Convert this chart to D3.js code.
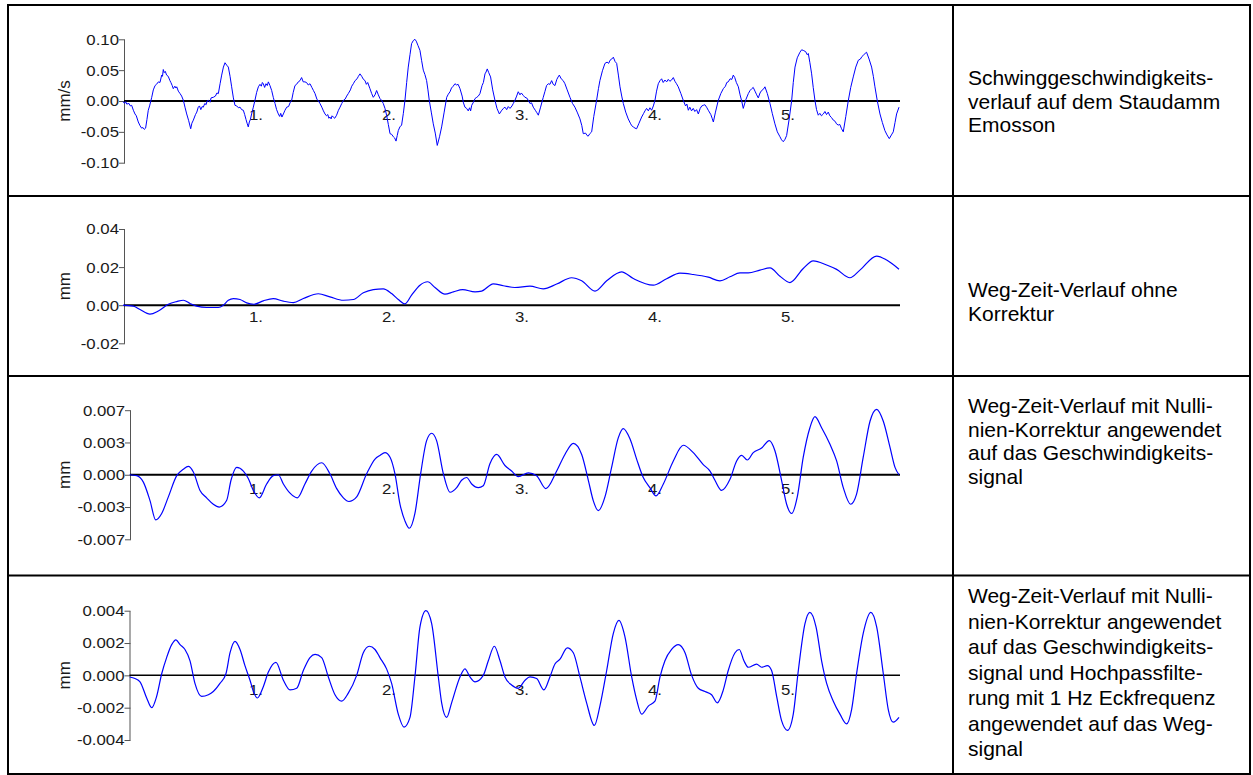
<!DOCTYPE html>
<html>
<head>
<meta charset="utf-8">
<script src="https://cdn.jsdelivr.net/npm/d3@7/dist/d3.min.js"></script>
<style>
  html, body { margin: 0; padding: 0; background: #fff; }
  svg { display: block; font-family: "Liberation Sans", Arial, sans-serif; }
</style>
</head>
<body>
<svg id="chart" width="1253" height="775"></svg>
<script>
// ---- time axis (seconds) ----
const timeTicks = [1, 2, 3, 4, 5];
const timeTickLabels = ["1.", "2.", "3.", "4.", "5."];
const timeEnd = 5.835;

// ---- velocity record, mm/s  [t, v] ----
const velocity = [
  [0.000,-0.001],[0.012,-0.004],[0.020,-0.001],[0.028,-0.005],[0.045,-0.004],[0.055,-0.008],[0.065,-0.007],
  [0.078,-0.015],[0.090,-0.021],[0.100,-0.024],[0.115,-0.034],[0.128,-0.040],[0.140,-0.044],[0.150,-0.043],
  [0.160,-0.046],[0.170,-0.044],[0.180,-0.030],[0.190,-0.015],[0.200,-0.008],[0.216,0.006],[0.228,0.018],
  [0.241,0.025],[0.252,0.027],[0.266,0.031],[0.278,0.030],[0.291,0.042],[0.297,0.040],[0.303,0.051],
  [0.310,0.046],[0.318,0.048],[0.328,0.042],[0.340,0.040],[0.353,0.033],[0.360,0.030],[0.370,0.025],
  [0.378,0.020],[0.390,0.024],[0.398,0.021],[0.404,0.023],[0.416,0.016],[0.429,0.012],[0.441,0.008],
  [0.454,0.001],[0.466,-0.010],[0.479,-0.021],[0.494,-0.032],[0.509,-0.045],[0.518,-0.036],[0.529,-0.031],
  [0.545,-0.022],[0.555,-0.018],[0.566,-0.010],[0.575,-0.008],[0.585,-0.014],[0.595,-0.009],[0.604,-0.010],
  [0.615,-0.004],[0.625,-0.006],[0.632,0.000],[0.642,0.001],[0.655,-0.002],[0.662,0.005],[0.679,0.006],
  [0.695,0.008],[0.706,0.013],[0.717,0.012],[0.730,0.028],[0.742,0.042],[0.755,0.055],[0.767,0.062],
  [0.780,0.058],[0.792,0.055],[0.805,0.040],[0.817,0.023],[0.830,0.005],[0.842,-0.007],[0.855,-0.008],
  [0.868,-0.011],[0.880,-0.010],[0.892,-0.014],[0.905,-0.015],[0.915,-0.022],[0.925,-0.030],[0.933,-0.036],
  [0.942,-0.042],[0.950,-0.034],[0.958,-0.030],[0.967,-0.021],[0.980,-0.010],[0.992,0.001],[1.005,0.014],
  [1.018,0.023],[1.030,0.027],[1.040,0.024],[1.048,0.030],[1.055,0.028],[1.065,0.022],[1.075,0.028],
  [1.085,0.025],[1.093,0.031],[1.105,0.025],[1.118,0.017],[1.130,0.006],[1.143,-0.004],[1.155,-0.014],
  [1.168,-0.021],[1.178,-0.025],[1.186,-0.020],[1.195,-0.026],[1.206,-0.021],[1.218,-0.015],[1.231,-0.010],
  [1.245,-0.009],[1.256,-0.003],[1.268,0.001],[1.280,0.014],[1.293,0.025],[1.305,0.027],[1.318,0.031],
  [1.331,0.033],[1.343,0.038],[1.355,0.031],[1.368,0.031],[1.380,0.030],[1.393,0.026],[1.406,0.028],
  [1.420,0.022],[1.432,0.017],[1.444,0.012],[1.458,0.003],[1.470,0.000],[1.481,-0.004],[1.495,-0.010],
  [1.507,-0.016],[1.519,-0.021],[1.530,-0.024],[1.540,-0.022],[1.548,-0.028],[1.556,-0.026],[1.565,-0.029],
  [1.572,-0.024],[1.581,-0.026],[1.592,-0.028],[1.606,-0.023],[1.620,-0.015],[1.632,-0.010],[1.645,-0.004],
  [1.657,0.001],[1.670,0.003],[1.682,0.008],[1.694,0.012],[1.710,0.018],[1.720,0.024],[1.732,0.028],
  [1.745,0.033],[1.760,0.036],[1.770,0.040],[1.782,0.044],[1.795,0.040],[1.808,0.035],[1.820,0.033],
  [1.830,0.027],[1.840,0.030],[1.857,0.020],[1.870,0.012],[1.882,0.006],[1.895,0.010],[1.907,0.017],
  [1.920,0.010],[1.932,0.004],[1.945,0.001],[1.957,-0.004],[1.970,-0.012],[1.982,-0.023],[1.995,-0.038],
  [2.008,-0.053],[2.020,-0.054],[2.033,-0.058],[2.043,-0.060],[2.053,-0.065],[2.062,-0.056],[2.070,-0.048],
  [2.082,-0.042],[2.095,-0.039],[2.108,-0.020],[2.120,0.001],[2.133,0.030],[2.145,0.055],[2.158,0.075],
  [2.170,0.093],[2.183,0.098],[2.195,0.100],[2.205,0.097],[2.218,0.090],[2.233,0.082],[2.245,0.066],
  [2.258,0.050],[2.270,0.043],[2.283,0.033],[2.293,0.018],[2.303,0.001],[2.318,-0.018],[2.333,-0.037],
  [2.348,-0.052],[2.363,-0.072],[2.380,-0.058],[2.396,-0.042],[2.415,-0.018],[2.434,0.006],[2.446,0.011],
  [2.459,0.015],[2.470,0.021],[2.483,0.024],[2.496,0.028],[2.508,0.026],[2.520,0.027],[2.534,0.020],
  [2.550,0.008],[2.560,-0.003],[2.571,-0.010],[2.584,-0.012],[2.596,-0.016],[2.606,-0.011],[2.614,-0.016],
  [2.622,-0.007],[2.635,-0.002],[2.647,0.004],[2.660,0.006],[2.672,0.008],[2.684,0.012],[2.700,0.025],
  [2.710,0.030],[2.722,0.044],[2.730,0.047],[2.739,0.052],[2.750,0.046],[2.764,0.039],[2.780,0.018],
  [2.797,0.001],[2.812,-0.012],[2.830,-0.021],[2.845,-0.016],[2.860,-0.012],[2.872,-0.010],[2.885,-0.014],
  [2.897,-0.009],[2.910,-0.012],[2.925,-0.008],[2.935,-0.004],[2.947,0.001],[2.960,0.008],[2.972,0.015],
  [2.985,0.010],[2.995,0.013],[3.010,0.009],[3.022,0.006],[3.035,0.005],[3.048,0.001],[3.060,-0.004],
  [3.072,-0.003],[3.085,-0.010],[3.100,-0.015],[3.112,-0.019],[3.123,-0.023],[3.140,-0.010],[3.160,0.006],
  [3.172,0.015],[3.185,0.025],[3.198,0.028],[3.210,0.027],[3.223,0.033],[3.235,0.027],[3.248,0.025],
  [3.262,0.035],[3.272,0.039],[3.281,0.042],[3.295,0.036],[3.310,0.033],[3.323,0.028],[3.340,0.018],
  [3.361,0.006],[3.380,-0.004],[3.398,-0.010],[3.415,-0.018],[3.436,-0.029],[3.450,-0.040],[3.461,-0.053],
  [3.478,-0.052],[3.490,-0.056],[3.498,-0.057],[3.510,-0.053],[3.524,-0.050],[3.540,-0.025],[3.561,0.001],
  [3.575,0.020],[3.586,0.033],[3.605,0.049],[3.624,0.061],[3.640,0.063],[3.652,0.061],[3.662,0.066],
  [3.675,0.068],[3.687,0.071],[3.700,0.064],[3.712,0.061],[3.725,0.042],[3.737,0.023],[3.750,0.008],
  [3.762,-0.004],[3.780,-0.018],[3.799,-0.029],[3.815,-0.036],[3.825,-0.040],[3.837,-0.042],[3.850,-0.044],
  [3.862,-0.045],[3.880,-0.036],[3.900,-0.026],[3.915,-0.020],[3.925,-0.016],[3.937,-0.012],[3.950,-0.016],
  [3.962,-0.011],[3.975,-0.015],[3.988,-0.008],[4.000,0.001],[4.012,0.016],[4.025,0.028],[4.038,0.033],
  [4.050,0.036],[4.062,0.030],[4.075,0.034],[4.088,0.031],[4.100,0.035],[4.112,0.032],[4.125,0.034],
  [4.138,0.038],[4.150,0.032],[4.162,0.028],[4.175,0.023],[4.195,0.012],[4.213,0.001],[4.230,-0.008],
  [4.240,-0.005],[4.251,-0.015],[4.262,-0.010],[4.275,-0.016],[4.288,-0.012],[4.300,-0.017],[4.313,-0.014],
  [4.326,-0.021],[4.340,-0.012],[4.352,-0.008],[4.363,-0.007],[4.375,-0.006],[4.388,-0.010],[4.401,-0.015],
  [4.420,-0.022],[4.430,-0.028],[4.439,-0.034],[4.455,-0.018],[4.476,0.001],[4.495,0.012],[4.514,0.020],
  [4.530,0.024],[4.540,0.030],[4.551,0.031],[4.565,0.036],[4.578,0.035],[4.589,0.042],[4.600,0.038],
  [4.612,0.030],[4.627,0.023],[4.640,0.010],[4.652,0.000],[4.664,-0.012],[4.683,0.002],[4.702,0.012],
  [4.715,0.017],[4.728,0.020],[4.739,0.022],[4.752,0.016],[4.765,0.010],[4.777,0.005],[4.790,0.013],
  [4.802,0.017],[4.815,0.019],[4.827,0.023],[4.845,0.012],[4.865,-0.004],[4.882,-0.020],[4.902,-0.037],
  [4.920,-0.050],[4.940,-0.058],[4.952,-0.063],[4.965,-0.066],[4.978,-0.062],[4.990,-0.056],[5.010,-0.028],
  [5.028,0.001],[5.040,0.030],[5.053,0.055],[5.070,0.070],[5.090,0.079],[5.103,0.083],[5.115,0.082],
  [5.133,0.080],[5.145,0.075],[5.153,0.077],[5.165,0.062],[5.178,0.044],[5.190,0.022],[5.203,0.001],
  [5.215,-0.014],[5.228,-0.023],[5.240,-0.020],[5.252,-0.024],[5.266,-0.021],[5.278,-0.017],[5.290,-0.022],
  [5.303,-0.018],[5.315,-0.024],[5.328,-0.027],[5.341,-0.031],[5.355,-0.033],[5.365,-0.037],[5.378,-0.039],
  [5.390,-0.038],[5.403,-0.045],[5.416,-0.050],[5.435,-0.025],[5.454,0.001],[5.472,0.022],[5.491,0.039],
  [5.510,0.055],[5.529,0.066],[5.545,0.068],[5.556,0.072],[5.566,0.074],[5.580,0.077],[5.591,0.079],
  [5.610,0.068],[5.629,0.055],[5.642,0.040],[5.654,0.023],[5.672,0.000],[5.692,-0.021],[5.710,-0.035],
  [5.729,-0.048],[5.745,-0.055],[5.762,-0.061],[5.778,-0.055],[5.792,-0.050],[5.805,-0.035],[5.817,-0.021],
  [5.835,-0.010]
];

// ---- displacement without correction, mm ----
const dispRaw = [
  [0.000,0.0000],[0.078,-0.0005],[0.128,-0.0023],[0.203,-0.0047],[0.266,-0.0030],[0.341,0.0005],
  [0.404,0.0019],[0.454,0.0026],[0.504,0.0009],[0.554,-0.0005],[0.629,-0.0012],[0.717,-0.0012],
  [0.754,0.0000],[0.792,0.0026],[0.830,0.0035],[0.880,0.0030],[0.930,0.0012],[0.985,0.0005],
  [1.055,0.0023],[1.130,0.0035],[1.206,0.0021],[1.281,0.0014],[1.356,0.0035],[1.469,0.0060],
  [1.556,0.0044],[1.657,0.0026],[1.732,0.0030],[1.807,0.0065],[1.882,0.0082],[1.957,0.0086],
  [2.020,0.0061],[2.070,0.0030],[2.120,0.0007],[2.170,0.0053],[2.233,0.0105],[2.291,0.0123],
  [2.346,0.0093],[2.421,0.0058],[2.484,0.0070],[2.554,0.0082],[2.647,0.0070],[2.697,0.0074],
  [2.784,0.0112],[2.860,0.0102],[2.947,0.0093],[3.060,0.0100],[3.160,0.0086],[3.261,0.0111],
  [3.373,0.0144],[3.449,0.0128],[3.549,0.0074],[3.637,0.0128],[3.749,0.0175],[3.837,0.0140],
  [3.987,0.0105],[4.088,0.0139],[4.188,0.0168],[4.288,0.0161],[4.401,0.0147],[4.489,0.0128],
  [4.564,0.0149],[4.639,0.0170],[4.702,0.0170],[4.789,0.0184],[4.865,0.0196],[4.940,0.0152],
  [5.015,0.0119],[5.115,0.0193],[5.190,0.0233],[5.291,0.0211],[5.366,0.0188],[5.466,0.0144],
  [5.541,0.0184],[5.667,0.0258],[5.742,0.0237],[5.835,0.0189]
];

// ---- displacement with zero-line correction of the velocity signal, mm ----
const dispCorrected = [
  [0.050,0.0000],[0.103,-0.0001],[0.153,-0.0008],[0.203,-0.0028],[0.246,-0.0049],[0.291,-0.0042],
  [0.341,-0.0024],[0.404,-0.0001],[0.454,0.0006],[0.491,0.0009],[0.529,0.0003],[0.579,-0.0017],
  [0.629,-0.0025],[0.679,-0.0032],[0.724,-0.0035],[0.779,-0.0028],[0.812,-0.0006],[0.855,0.0008],
  [0.905,0.0004],[0.942,-0.0004],[0.980,-0.0017],[1.025,-0.0025],[1.080,-0.0010],[1.130,-0.0001],
  [1.168,0.0000],[1.206,-0.0010],[1.256,-0.0020],[1.311,-0.0025],[1.368,-0.0010],[1.419,0.0004],
  [1.494,0.0013],[1.556,0.0001],[1.607,-0.0015],[1.657,-0.0025],[1.699,-0.0029],[1.757,-0.0024],
  [1.832,0.0001],[1.895,0.0017],[1.932,0.0021],[1.970,0.0024],[2.008,0.0019],[2.045,0.0001],
  [2.083,-0.0032],[2.120,-0.0050],[2.153,-0.0058],[2.195,-0.0042],[2.238,0.0001],[2.283,0.0037],
  [2.321,0.0045],[2.358,0.0037],[2.409,0.0001],[2.459,-0.0019],[2.509,-0.0014],[2.546,-0.0006],
  [2.584,-0.0003],[2.622,-0.0010],[2.672,-0.0014],[2.709,-0.0012],[2.759,0.0012],[2.810,0.0022],
  [2.872,0.0010],[2.922,0.0004],[2.972,-0.0002],[3.048,0.0002],[3.110,-0.0001],[3.180,-0.0015],
  [3.261,0.0004],[3.323,0.0022],[3.386,0.0034],[3.449,0.0022],[3.499,-0.0006],[3.536,-0.0028],
  [3.574,-0.0039],[3.624,-0.0024],[3.674,0.0008],[3.724,0.0040],[3.762,0.0050],[3.812,0.0039],
  [3.862,0.0017],[3.912,-0.0003],[3.962,-0.0014],[4.008,-0.0023],[4.063,-0.0010],[4.138,0.0015],
  [4.213,0.0032],[4.288,0.0024],[4.363,0.0011],[4.414,0.0004],[4.451,-0.0006],[4.501,-0.0017],
  [4.564,-0.0005],[4.614,0.0015],[4.652,0.0021],[4.694,0.0016],[4.739,0.0024],[4.802,0.0029],
  [4.860,0.0037],[4.902,0.0026],[4.952,-0.0006],[4.990,-0.0032],[5.028,-0.0042],[5.070,-0.0024],
  [5.115,0.0019],[5.165,0.0051],[5.203,0.0063],[5.253,0.0051],[5.316,0.0033],[5.366,0.0015],
  [5.416,-0.0014],[5.471,-0.0032],[5.516,-0.0021],[5.566,0.0019],[5.617,0.0058],[5.667,0.0071],
  [5.717,0.0058],[5.767,0.0030],[5.805,0.0008],[5.835,0.0000]
];

// ---- displacement with zero-line correction and 1 Hz high-pass, mm ----
const dispFiltered = [
  [0.050,-0.0001],[0.090,-0.0002],[0.128,-0.0004],[0.178,-0.0014],[0.216,-0.0020],[0.253,-0.0013],
  [0.291,0.0001],[0.328,0.0011],[0.366,0.0019],[0.398,0.0022],[0.429,0.0019],[0.466,0.0016],
  [0.504,0.0009],[0.541,-0.0005],[0.591,-0.0013],[0.642,-0.0012],[0.679,-0.0010],[0.729,-0.0005],
  [0.774,0.0001],[0.805,0.0014],[0.842,0.0021],[0.880,0.0016],[0.917,0.0006],[0.955,-0.0003],
  [0.985,-0.0011],[1.010,-0.0014],[1.055,-0.0007],[1.093,0.0002],[1.150,0.0008],[1.206,-0.0003],
  [1.256,-0.0009],[1.306,-0.0008],[1.356,0.0003],[1.406,0.0011],[1.444,0.0013],[1.494,0.0011],
  [1.544,-0.0001],[1.594,-0.0012],[1.644,-0.0016],[1.694,-0.0011],[1.757,0.0000],[1.807,0.0014],
  [1.852,0.0018],[1.895,0.0016],[1.932,0.0011],[1.982,0.0004],[2.020,-0.0005],[2.070,-0.0024],
  [2.113,-0.0032],[2.158,-0.0026],[2.195,-0.0001],[2.233,0.0030],[2.278,0.0040],[2.321,0.0032],
  [2.371,-0.0001],[2.396,-0.0017],[2.434,-0.0026],[2.471,-0.0017],[2.534,-0.0001],[2.571,0.0004],
  [2.609,-0.0001],[2.647,-0.0004],[2.709,0.0000],[2.747,0.0009],[2.792,0.0018],[2.835,0.0009],
  [2.872,-0.0001],[2.922,-0.0006],[2.972,-0.0008],[3.023,-0.0003],[3.060,-0.0001],[3.110,-0.0002],
  [3.165,-0.0009],[3.210,-0.0001],[3.248,0.0007],[3.286,0.0010],[3.341,0.0017],[3.386,0.0014],
  [3.436,-0.0001],[3.486,-0.0017],[3.544,-0.0031],[3.586,-0.0019],[3.637,0.0003],[3.687,0.0026],
  [3.729,0.0034],[3.774,0.0024],[3.825,-0.0001],[3.862,-0.0015],[3.900,-0.0024],[3.950,-0.0019],
  [4.000,-0.0016],[4.038,-0.0001],[4.075,0.0009],[4.125,0.0016],[4.175,0.0019],[4.226,0.0014],
  [4.276,0.0000],[4.326,-0.0008],[4.376,-0.0010],[4.426,-0.0012],[4.469,-0.0017],[4.514,-0.0009],
  [4.551,0.0003],[4.602,0.0014],[4.634,0.0016],[4.669,0.0009],[4.702,0.0005],[4.764,0.0007],
  [4.802,0.0005],[4.845,0.0006],[4.877,0.0003],[4.915,-0.0013],[4.952,-0.0028],[4.997,-0.0034],
  [5.040,-0.0024],[5.078,0.0003],[5.128,0.0032],[5.165,0.0039],[5.211,0.0030],[5.253,0.0009],
  [5.291,-0.0005],[5.341,-0.0016],[5.391,-0.0024],[5.441,-0.0030],[5.479,-0.0021],[5.516,0.0001],
  [5.566,0.0026],[5.624,0.0039],[5.667,0.0030],[5.717,0.0001],[5.754,-0.0021],[5.792,-0.0029],
  [5.835,-0.0026]
];

// ---- value axes ----
const velTicks = [-0.10, -0.05, 0, 0.05, 0.10];
const velTickLabels = ["-0.10", "-0.05", "0.00", "0.05", "0.10"];
const rawTicks = [-0.02, 0, 0.02, 0.04];
const rawTickLabels = ["-0.02", "0.00", "0.02", "0.04"];
const corrTicks = [-0.007, -0.0035, 0, 0.0035, 0.007];
const corrTickLabels = ["-0.007", "-0.003", "0.000", "0.003", "0.007"];
const filtTicks = [-0.004, -0.002, 0, 0.002, 0.004];
const filtTickLabels = ["-0.004", "-0.002", "0.000", "0.002", "0.004"];

const units = ["mm/s", "mm", "mm", "mm"];

const descriptions = [
  ["Schwinggeschwindigkeits-", "verlauf auf dem Staudamm", "Emosson"],
  ["Weg-Zeit-Verlauf ohne", "Korrektur"],
  ["Weg-Zeit-Verlauf mit Nulli-", "nien-Korrektur angewendet", "auf das Geschwindigkeits-", "signal"],
  ["Weg-Zeit-Verlauf mit Nulli-", "nien-Korrektur angewendet", "auf das Geschwindigkeits-",
   "signal und Hochpassfilte-", "rung mit 1 Hz Eckfrequenz", "angewendet auf das Weg-", "signal"]
];

// ---- layout ----
const W = 1253, H = 775;
const tableLeft = 8, tableRight = 1250, tableTop = 5, tableBottom = 774, colSplit = 953;
const rowSplits = [196, 376, 575.5];
const textX = 968;
const textBaselines = [85, 297, 413, 603];
const lineSteps = [23.5, 23.5, 23.5, 25.5];

const panels = [
  { data: velocity,      ticks: velTicks,  labels: velTickLabels,  domain: [-0.10, 0.10],   yRange: [162.7, 39.3], axisX: 124,   labelDy: 19,   zeroW: 2,   curve: d3.curveLinear,  lineW: 1.0 },
  { data: dispRaw,       ticks: rawTicks,  labels: rawTickLabels,  domain: [-0.02, 0.04],   yRange: [343.3, 229],  axisX: 124,   labelDy: 17,   zeroW: 2,   curve: d3.curveMonotoneX, lineW: 1.2 },
  { data: dispCorrected, ticks: corrTicks, labels: corrTickLabels, domain: [-0.007, 0.007], yRange: [539.3, 410.2], axisX: 130,  labelDy: 19,   zeroW: 2,   curve: d3.curveMonotoneX, lineW: 1.2 },
  { data: dispFiltered,  ticks: filtTicks, labels: filtTickLabels, domain: [-0.004, 0.004], yRange: [740, 610.7],  axisX: 129.5, labelDy: 19.5, zeroW: 1.5, curve: d3.curveMonotoneX, lineW: 1.2 }
];

const svg = d3.select("#chart");
svg.append("rect").attr("width", W).attr("height", H).attr("fill", "#fff");

const x = d3.scaleLinear().domain([0, timeEnd]).range([123, 899]);
const xStretch = 1.12;   // axis lettering is slightly wide

panels.forEach((p, i) => {
  const y = d3.scaleLinear().domain(p.domain).range(p.yRange);
  const g = svg.append("g");

  // value axis
  const axis = d3.axisLeft(y)
    .tickValues(p.ticks)
    .tickFormat((d, k) => p.labels[k])
    .tickSizeInner(5)
    .tickSizeOuter(0)
    .tickPadding(0);
  const ag = g.append("g").attr("transform", `translate(${p.axisX},0)`).call(axis);
  ag.select(".domain").attr("stroke", "#555").attr("stroke-width", 1);
  ag.selectAll(".tick line").attr("stroke", "#555").attr("x1", 1);
  ag.selectAll(".tick text")
    .attr("x", -5 / xStretch)
    .attr("dy", "0.33em")
    .attr("transform", `scale(${xStretch},1)`)
    .attr("fill", "#1a1a1a")
    .style("font-size", "15px")
    .style("font-family", "'Liberation Sans', Arial, sans-serif");

  // unit label
  const midY = (p.yRange[0] + p.yRange[1]) / 2;
  g.append("text")
    .attr("transform", `translate(64,${midY}) rotate(-90)`)
    .attr("text-anchor", "middle")
    .attr("dy", "0.35em")
    .attr("fill", "#1a1a1a")
    .style("font-size", "17px")
    .text(units[i]);

  // zero line
  const y0 = y(0);
  g.append("line")
    .attr("x1", p.axisX).attr("x2", 900)
    .attr("y1", y0).attr("y2", y0)
    .attr("stroke", "#000").attr("stroke-width", p.zeroW);

  // time labels
  g.selectAll(".tl").data(timeTicks).enter().append("text")
    .attr("transform", d => `translate(${x(d)},${y0 + p.labelDy}) scale(${xStretch},1)`)
    .attr("text-anchor", "middle")
    .attr("fill", "#1a1a1a")
    .style("font-size", "15px")
    .text((d, k) => timeTickLabels[k]);

  // signal trace
  const line = d3.line().x(d => x(d[0])).y(d => y(d[1])).curve(p.curve);
  g.append("path")
    .datum(p.data)
    .attr("d", line)
    .attr("fill", "none")
    .attr("stroke", "#0000ff")
    .attr("stroke-width", p.lineW)
    .attr("stroke-linejoin", "round");

  // description text
  const t = svg.append("text")
    .attr("fill", "#000")
    .style("font-size", "21px");
  descriptions[i].forEach((s, k) => {
    t.append("tspan").attr("x", textX).attr("y", textBaselines[i] + k * lineSteps[i]).text(s);
  });
});

// table grid
const grid = svg.append("g").attr("stroke", "#000").attr("stroke-width", 2).attr("fill", "none");
grid.append("rect")
  .attr("x", tableLeft).attr("y", tableTop)
  .attr("width", tableRight - tableLeft).attr("height", tableBottom - tableTop);
grid.append("line").attr("x1", colSplit).attr("x2", colSplit).attr("y1", tableTop).attr("y2", tableBottom);
rowSplits.forEach(ry => {
  grid.append("line").attr("x1", tableLeft).attr("x2", tableRight).attr("y1", ry).attr("y2", ry);
});
</script>
</body>
</html>
